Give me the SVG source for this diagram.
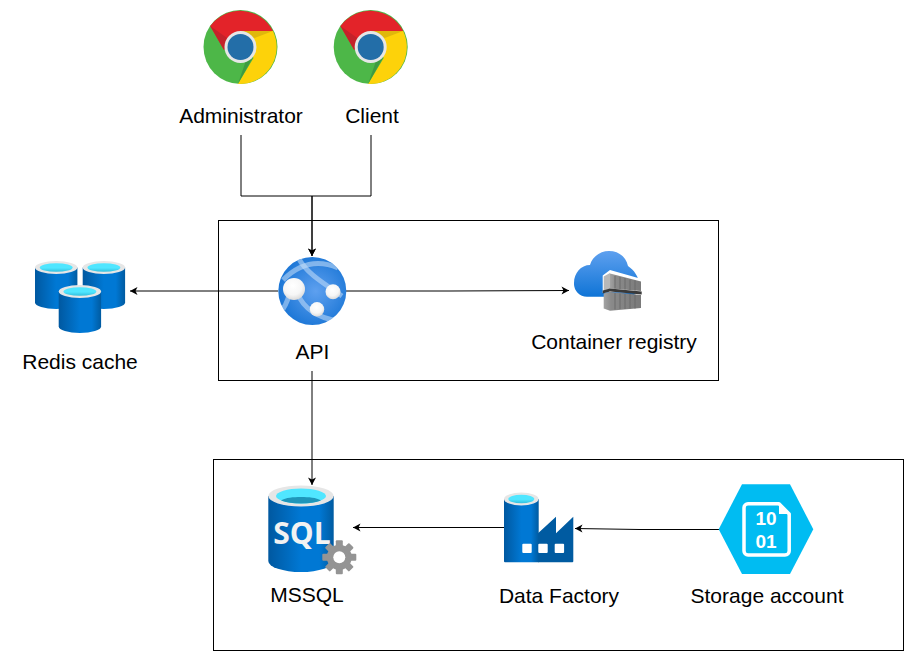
<svg xmlns="http://www.w3.org/2000/svg" xmlns:xlink="http://www.w3.org/1999/xlink" width="915" height="661" viewBox="0 0 915 661">
<style>
.lbl{font-family:"Liberation Sans",Arial,sans-serif;font-size:21px;fill:#000;text-anchor:middle}
.box{fill:none;stroke:#000;stroke-width:1}
.wire{fill:none;stroke:#000;stroke-width:1}
.arr{marker-end:url(#arrow)}
.win{fill:#fff}
.bits{font-family:"Liberation Sans",Arial,sans-serif;font-size:19px;font-weight:700;fill:#fff;text-anchor:middle}
</style>
<defs>
<marker id="arrow" markerUnits="userSpaceOnUse" markerWidth="9" markerHeight="9" refX="8" refY="4.500" orient="auto">
<path d="M8 4.500L0.500 0.500L2.500 4.500L0.500 8.500Z" fill="#000"/>
</marker>
<linearGradient id="cyl" x1="0" y1="0" x2="1" y2="0">
<stop offset="0" stop-color="#0058a0"/><stop offset="0.5" stop-color="#0078d4"/><stop offset="0.78" stop-color="#0078d4"/><stop offset="1" stop-color="#005ba1"/>
</linearGradient>
<radialGradient id="globe" cx="0.55" cy="0.5" r="0.55">
<stop offset="0" stop-color="#5ea0ef"/><stop offset="1" stop-color="#1b76d6"/>
</radialGradient>
<radialGradient id="ball" cx="0.45" cy="0.35" r="0.7">
<stop offset="0" stop-color="#fff"/><stop offset="0.6" stop-color="#f6f6f6"/><stop offset="1" stop-color="#d4d4d4"/>
</radialGradient>
<linearGradient id="cloud" x1="0" y1="0" x2="0" y2="1">
<stop offset="0" stop-color="#5ea0ef"/><stop offset="1" stop-color="#0f74d6"/>
</linearGradient>
<linearGradient id="well" x1="0" y1="0" x2="0" y2="1">
<stop offset="0" stop-color="#50e6ff"/><stop offset="0.55" stop-color="#50e6ff"/><stop offset="1" stop-color="#32bedd"/>
</linearGradient>
<linearGradient id="crate" x1="0" y1="0" x2="1" y2="0">
<stop offset="0" stop-color="#a3a3a3"/><stop offset="0.2" stop-color="#8a8a8a"/><stop offset="1" stop-color="#7a7a7a"/>
</linearGradient>
<clipPath id="globe-clip"><circle cx="312.300" cy="291" r="34"/></clipPath>
<g id="chrome">
<circle cx="0" cy="0" r="37" fill="#4db748"/>
<path d="M-30.300-21A37 37 0 0 1 32.500-16L0-16L-16.500 3Z" fill="#e32329"/>
<path d="M32.500-16A37 37 0 0 1-2.600 37L13 11L0-16Z" fill="#fdd20a"/>
<path d="M-30.300-21L-16.500 3L-12-8Z" fill="#c4222a"/>
<path d="M0-16L32.500-16L14-9Z" fill="#e0b70c"/>
<path d="M-2.600 37L12 11L5 15Z" fill="#3f9a41"/>
<circle cx="0" cy="0" r="16" fill="#e6e6e6"/>
<circle cx="0" cy="0" r="13" fill="#236ea8"/>
</g>
<g id="cylinder">
<path d="M0 6.500V41.500A21.200 6.500 0 0 0 42.400 41.500V6.500Z" fill="url(#cyl)"/>
<ellipse cx="21.200" cy="6.500" rx="21.200" ry="6.500" fill="#e6e6e6"/>
<ellipse cx="21.200" cy="6.500" rx="16.500" ry="4.300" fill="url(#well)"/>
</g>
</defs>

<g id="containers">
<rect class="box" x="218.500" y="220.500" width="500" height="160"/>
<rect class="box" x="213.500" y="459.500" width="690" height="191"/>
</g>

<g id="connectors">
<path class="wire arr" d="M241 135V196H312V256"/>
<path class="wire arr" d="M371 135V196H312V256"/>
<path class="wire arr" d="M278 291H130"/>
<path class="wire arr" d="M346 291H450L569 290.500"/>
<path class="wire arr" d="M312 371V485"/>
<path class="wire arr" d="M504 527.500H353"/>
<path class="wire arr" d="M719 529.500H640L575 528.500"/>
</g>

<g id="administrator">
<use href="#chrome" x="240.500" y="47"/>
<text class="lbl" x="241" y="123">Administrator</text>
</g>
<g id="client">
<use href="#chrome" x="370.700" y="47"/>
<text class="lbl" x="372" y="123">Client</text>
</g>

<g id="redis-cache">
<use href="#cylinder" x="35" y="261"/>
<use href="#cylinder" x="82.700" y="261"/>
<use href="#cylinder" x="58.700" y="285"/>
<text class="lbl" x="80" y="369">Redis cache</text>
</g>

<g id="api">
<circle cx="312.300" cy="291" r="34" fill="url(#globe)"/>
<g fill="none" stroke="#c8e0fa" stroke-opacity="0.55" stroke-width="5" clip-path="url(#globe-clip)">
<path d="M299 259C307 273 320 281 342 296"/>
<path d="M283 280C297 266 315 258 338 268"/>
<path d="M283 309C287 303 289 297 291 288"/>
<path d="M298 294C303 308 318 318 338 321"/>
</g>
<circle cx="294" cy="289" r="11" fill="url(#ball)"/>
<circle cx="333" cy="291.700" r="7.500" fill="url(#ball)"/>
<circle cx="317" cy="309.300" r="7.200" fill="url(#ball)"/>
<text class="lbl" x="312.500" y="359">API</text>
</g>

<g id="container-registry">
<path d="M587 296.700A13 13 0 0 1 574 283C574 273 581 265 590 265C592 257 600 251 609 251C619 251 626 257 628 266C634 270 639 277 639 284C639 291 635 296.700 628 296.700Z" fill="url(#cloud)"/>
<path d="M602.700 275.500L610 270L641.700 279V293L610 292L602.700 293Z" fill="#fff"/>
<path d="M603.700 276.500L610 273V289.500L603.700 290Z" fill="#b8b8b8"/>
<path d="M610 273.500L641 281.500V291L610 288.500Z" fill="url(#crate)"/>
<path d="M603.700 293.500L610 292L641 295V308L610 310.700L603.700 308.500Z" fill="url(#crate)"/>
<path d="M602.700 290.500L610 288.500L641.700 291.500V294.500L610 291.500L602.700 293.500Z" fill="#3a3a3a"/>
<g stroke="#6a6a6a" stroke-width="1" fill="none">
<path d="M615 276V288.500M620 277V289M625 278V289.500M630 279.500V290M635 280.500V290.500"/>
<path d="M615 293V309.500M620 293.500V309M625 294V309M630 294V308.500M635 294.500V308.500"/>
</g>
<text class="lbl" x="614" y="349">Container registry</text>
</g>

<g id="mssql">
<path d="M268.300 496V561A32.700 11 0 0 0 333.700 561V496Z" fill="url(#cyl)"/>
<ellipse cx="301" cy="496" rx="32.700" ry="10.500" fill="#e6e6e6"/>
<ellipse cx="301" cy="496" rx="25" ry="7.500" fill="#50e6ff"/>
<path d="M281 500.500A25 7.500 0 0 0 321 500.500C316 497.500 309 497 301 497C293 497 286 497.500 281 500.500Z" fill="#1f96ba"/>
<text x="302" y="544" font-family="'Open Sans',sans-serif" font-size="30" font-weight="700" fill="#f2f2f2" text-anchor="middle">SQL</text>
<g fill="#949494">
<circle cx="339.300" cy="557.300" r="12.500"/>
<g id="gear-teeth">
<rect x="335.800" y="540.300" width="7" height="8" rx="1"/>
<rect x="335.800" y="540.300" width="7" height="8" rx="1" transform="rotate(45 339.300 557.300)"/>
<rect x="335.800" y="540.300" width="7" height="8" rx="1" transform="rotate(90 339.300 557.300)"/>
<rect x="335.800" y="540.300" width="7" height="8" rx="1" transform="rotate(135 339.300 557.300)"/>
<rect x="335.800" y="540.300" width="7" height="8" rx="1" transform="rotate(180 339.300 557.300)"/>
<rect x="335.800" y="540.300" width="7" height="8" rx="1" transform="rotate(225 339.300 557.300)"/>
<rect x="335.800" y="540.300" width="7" height="8" rx="1" transform="rotate(270 339.300 557.300)"/>
<rect x="335.800" y="540.300" width="7" height="8" rx="1" transform="rotate(315 339.300 557.300)"/>
</g>
</g>
<circle cx="339.300" cy="557.300" r="6" fill="#fff"/>
<text class="lbl" x="307" y="602">MSSQL</text>
</g>

<g id="data-factory">
<path d="M538 533.300L556 516.700V533.300L573.300 516.700V561.300Q573.300 562.300 572.300 562.300H538Z" fill="#005ba1"/>
<path d="M504 499V561.300Q504 562.300 505 562.300H538.700V499Z" fill="url(#cyl)"/>
<ellipse cx="521.300" cy="499" rx="17.300" ry="6.500" fill="#e6e6e6"/>
<ellipse cx="521.300" cy="499" rx="13" ry="4.300" fill="url(#well)"/>
<rect class="win" x="522.300" y="543.700" width="9.400" height="9.300" rx="1"/>
<rect class="win" x="538.300" y="543.700" width="9.400" height="9.300" rx="1"/>
<rect class="win" x="554.700" y="543.700" width="9.400" height="9.300" rx="1"/>
<text class="lbl" x="559" y="603">Data Factory</text>
</g>

<g id="storage-account">
<path d="M718.700 529.200L742 484.300H790L813.300 529.200L790 574H742Z" fill="#00bcf2"/>
<path d="M748 503.800H779L789.200 514V551C789.200 553.300 787.500 555 785 555H748C745.800 555 744 553.300 744 551V507.800C744 505.500 745.800 503.800 748 503.800Z" fill="none" stroke="#fff" stroke-width="3.500" stroke-linejoin="round"/>
<path d="M779 503L790 514H779Z" fill="#fff"/>
<text class="bits" x="766" y="525">10</text>
<text class="bits" x="766" y="547.500">01</text>
<text class="lbl" x="767" y="603">Storage account</text>
</g>
</svg>
